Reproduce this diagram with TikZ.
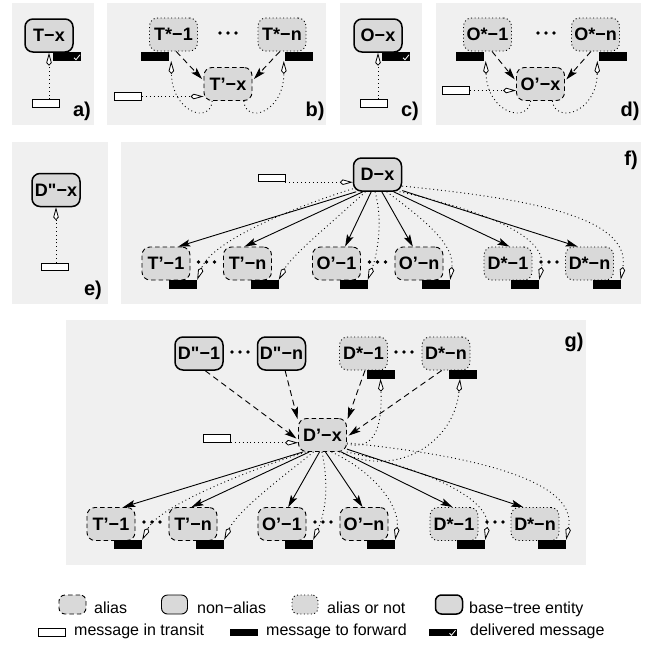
\documentclass[tikz,border=0pt]{standalone}
\usepackage{fontspec}
\setmainfont{Liberation Sans}[Ligatures=TeXOff]
\usetikzlibrary{arrows.meta}
\definecolor{panelbg}{RGB}{240,240,240}
\definecolor{nodegray}{RGB}{217,217,217}
\newcommand{\entfont}{\fontsize{18}{18}\selectfont\bfseries}
\newcommand{\labfont}{\fontsize{20}{20}\selectfont\bfseries}
\newcommand{\legfont}{\fontsize{16}{16}\selectfont}

\tikzset{
  panel/.style={fill=panelbg, draw=none},
  entity/.style={rounded corners=8pt, fill=nodegray, minimum width=48pt,
    minimum height=33pt, inner sep=0pt, font=\entfont},
  basebox/.style={entity, draw, line width=1.5pt},
  aliasbox/.style={entity, draw, line width=0.9pt, dash pattern=on 4.5pt off 3pt},
  eitherbox/.style={entity, draw, line width=0.9pt, dash pattern=on 1pt off 2.5pt},
  plainbox/.style={entity, draw, line width=0.9pt},
  transitmsg/.style={draw, fill=white, line width=0.9pt, minimum width=27pt,
    minimum height=7.5pt, inner sep=0pt},
  forwardmsg/.style={fill=black, minimum width=28pt, minimum height=8.5pt, inner sep=0pt},
  deliveredmsg/.style={forwardmsg, path picture={
    \draw[white, line width=0.8pt]
      ([shift={(-7,-3)}]path picture bounding box.south east) -- ++(2,2) -- ++(4,-5);}},
  msgline/.style={line width=0.9pt, dash pattern=on 0.9pt off 3pt,
    -{Kite[length=13pt, width=5.5pt, inset=3pt, fill=white, line width=0.8pt]}},
  solidarrow/.style={line width=0.9pt, -{Stealth[length=12pt, width=7pt, inset=2.5pt]}},
  dasharrow/.style={line width=0.9pt, dash pattern=on 6pt off 4pt, shorten >=2pt,
    -{Stealth[length=12pt, width=7pt, inset=2.5pt]}},
  plabel/.style={font=\labfont, inner sep=0pt},
  legtext/.style={font=\legfont, inner sep=0pt, anchor=base west},
  threedots/.pic={\fill (-8,0) circle (1.9) (0,0) circle (1.9) (8,0) circle (1.9);}
}

\begin{document}
\begin{tikzpicture}[x=1pt, y=-1pt]
\useasboundingbox (0,0) rectangle (648,646);

% ---------- panel backgrounds ----------
\fill[panel] (12,3) rectangle (94,125);
\fill[panel] (107,3) rectangle (326,125);
\fill[panel] (340,3) rectangle (422,125);
\fill[panel] (436,3) rectangle (641,125);
\fill[panel] (12,142) rectangle (108,304);
\fill[panel] (121,142) rectangle (641,304);
\fill[panel] (66,320) rectangle (586,565);

% ---------- a) ----------
\node[basebox] (aT) at (49,35.5) {T−x};
\node[deliveredmsg] (aT-d) at (67,56.5) {};
\node[transitmsg] (aT-m) at (46,103.5) {};
\draw[msgline] (aT-m.north -| aT.south) -- (aT.south);
\node[plabel] (la) at (82,111) {a)};

% ---------- b) ----------
\node[eitherbox] (bS1) at (173.5,34.5) {T*−1};
\node[eitherbox] (bSn) at (282,34.5) {T*−n};
\pic at (228,33) {threedots};
\node[aliasbox] (bP) at (228,84) {T’−x};
\node[forwardmsg] (bS1-f) at (155,56.5) {};
\node[forwardmsg] (bSn-f) at (299,56.5) {};
\node[transitmsg] (bP-m) at (128,96.5) {};
\draw[dasharrow] (bS1.-81) -- (bP.172);
\draw[dasharrow] (bSn.-97) -- (bP.8);
\draw[msgline] (bP-m.east) -- (bP-m.east -| bP.west);
\draw[msgline] (bP.-133) .. controls (210,125) and (172,112) .. ([xshift=2pt]bS1-f.south east);
\draw[msgline] (bP.-47) .. controls (246,125) and (284,112) .. ([xshift=-1pt]bSn-f.south west);
\node[plabel] (lb) at (315,111) {b)};

% ---------- c) ----------
\node[basebox] (cO) at (378,35.5) {O−x};
\node[deliveredmsg] (cO-d) at (396,56.5) {};
\node[transitmsg] (cO-m) at (374,103.5) {};
\draw[msgline] (cO-m.north -| cO.south) -- (cO.south);
\node[plabel] (lc) at (410,111) {c)};

% ---------- d) ----------
\node[eitherbox] (dS1) at (487.5,34.5) {O*−1};
\node[eitherbox] (dSn) at (595.5,34.5) {O*−n};
\pic at (546,33) {threedots};
\node[aliasbox] (dP) at (540.5,84) {O’−x};
\node[forwardmsg] (dS1-f) at (469.5,56.5) {};
\node[forwardmsg] (dSn-f) at (612.5,56.5) {};
\node[transitmsg] (dP-m) at (456,90.5) {};
\draw[dasharrow] (dS1.-75) -- (dP.173);
\draw[dasharrow] (dSn.-105) -- (dP.7);
\draw[msgline] (dP-m.east) -- (dP-m.east -| dP.west);
\draw[msgline] (dP.-120) .. controls (527,125) and (487,112) .. ([xshift=2pt]dS1-f.south east);
\draw[msgline] (dP.-55) .. controls (556,125) and (597,112) .. ([xshift=-1pt]dSn-f.south west);
\node[plabel] (ld) at (630,111) {d)};

% ---------- e) ----------
\node[basebox] (eD) at (56,190) {D"−x};
\node[transitmsg] (eD-m) at (54.5,267) {};
\draw[msgline] (eD-m.north -| eD.south) -- (eD.south);
\node[plabel] (le) at (93,290) {e)};

% ---------- f) ----------
\node[basebox] (fD) at (377.5,174.5) {D−x};
\node[transitmsg] (fD-m) at (271.5,178) {};
\draw[msgline] (fD-m.south east) -- (fD-m.south east -| fD.west);

\node[aliasbox] (fT1) at (166,263.5) {T’−1};
\node[aliasbox] (fTn) at (247.5,263.5) {T’−n};
\node[aliasbox] (fO1) at (336.5,263.5) {O’−1};
\node[aliasbox] (fOn) at (419,263.5) {O’−n};
\node[eitherbox] (fS1) at (508,263.5) {D*−1};
\node[eitherbox] (fSn) at (589.5,263.5) {D*−n};
\pic at (206.5,262) {threedots};
\pic at (377.5,262) {threedots};
\pic at (549,262) {threedots};
\node[forwardmsg] (fT1-f) at (183,284.25) {};
\node[forwardmsg] (fTn-f) at (264.5,284.25) {};
\node[forwardmsg] (fO1-f) at (353.5,284.25) {};
\node[forwardmsg] (fOn-f) at (436,284.25) {};
\node[forwardmsg] (fS1-f) at (525,284.25) {};
\node[forwardmsg] (fSn-f) at (606.5,284.25) {};

\draw[solidarrow] (fD.-141) -- (fT1.54);
\draw[solidarrow] (fD.-130) -- (fTn.100);
\draw[solidarrow] (fD.-110) -- (fO1.63);
\draw[solidarrow] (fD.-76) -- (fOn.110);
\draw[solidarrow] (fD.-47) -- (fS1.85);
\draw[solidarrow] (fD.-33) -- (fSn.125);

\draw[msgline] (fD.-150) .. controls (300,205) and (212,240) .. (fT1-f.north east);
\draw[msgline] (fD.-125) .. controls (335,220) and (292,255) .. (fTn-f.north east);
\draw[msgline] (fD.-98) .. controls (384,225) and (376,258) .. (fO1-f.north east);
\draw[msgline] (fD.-62) .. controls (425,220) and (455,245) .. (fOn-f.north east);
\draw[msgline] (fD.-38) .. controls (480,210) and (548,235) .. (fS1-f.north east);
\draw[msgline] (fD.-25) .. controls (520,198) and (632,215) .. (fSn-f.north east);
\node[plabel] (lf) at (631,160) {f)};

% ---------- g) ----------
\node[basebox] (gD1) at (199,353.5) {D"−1};
\node[basebox] (gDn) at (281.5,353.5) {D"−n};
\pic at (240,352) {threedots};
\node[eitherbox] (gS1) at (363.5,353.5) {D*−1};
\node[eitherbox] (gSn) at (446,353.5) {D*−n};
\pic at (404,352) {threedots};
\node[forwardmsg] (gS1-f) at (380.5,374.25) {};
\node[forwardmsg] (gSn-f) at (463,374.25) {};
\node[aliasbox] (gP) at (322.5,435) {D’−x};
\node[transitmsg] (gP-m) at (217,438.5) {};
\draw[msgline] (gP-m.south east) -- (gP-m.south east -| gP.west);

\draw[dasharrow] (gD1.-70) -- (gP.191);
\draw[dasharrow] (gDn.-78) -- (gP.150);
\draw[dasharrow] (gS1.-85) -- (gP.30);
\draw[dasharrow] (gSn.-104) -- (gP.-4);

\draw[msgline] (gP.-20) .. controls (378,452) and (382,420) .. (gS1-f.south);
\draw[msgline] (gP.-45) .. controls (400,480) and (455,440) .. ([xshift=-3pt]gSn-f.south);

\node[aliasbox] (gT1) at (111,524) {T’−1};
\node[aliasbox] (gTn) at (193,524) {T’−n};
\node[aliasbox] (gO1) at (282,524) {O’−1};
\node[aliasbox] (gOn) at (364,524) {O’−n};
\node[eitherbox] (gB1) at (454,524) {D*−1};
\node[eitherbox] (gBn) at (535,524) {D*−n};
\pic at (152,522) {threedots};
\pic at (323,522) {threedots};
\pic at (495,522) {threedots};
\node[forwardmsg] (gT1-f) at (128,544.25) {};
\node[forwardmsg] (gTn-f) at (210,544.25) {};
\node[forwardmsg] (gO1-f) at (299,544.25) {};
\node[forwardmsg] (gOn-f) at (381,544.25) {};
\node[forwardmsg] (gB1-f) at (471,544.25) {};
\node[forwardmsg] (gBn-f) at (552,544.25) {};

\draw[solidarrow] (gP.-139) -- (gT1.54);
\draw[solidarrow] (gP.-128) -- (gTn.95);
\draw[solidarrow] (gP.-100) -- (gO1.70);
\draw[solidarrow] (gP.-80) -- (gOn.95);
\draw[solidarrow] (gP.-42) -- (gB1.95);
\draw[solidarrow] (gP.-30) -- (gBn.125);

\draw[msgline] (gP.-135) .. controls (250,470) and (160,505) .. (gT1-f.north east);
\draw[msgline] (gP.-118) .. controls (285,475) and (238,510) .. (gTn-f.north east);
\draw[msgline] (gP.-92) .. controls (330,490) and (324,515) .. (gO1-f.north east);
\draw[msgline] (gP.-62) .. controls (380,475) and (400,510) .. (gOn-f.north east);
\draw[msgline] (gP.-35) .. controls (430,470) and (492,500) .. (gB1-f.north east);
\draw[msgline] (gP.-18) .. controls (470,455) and (578,480) .. (gBn-f.north east);
\node[plabel] (lg) at (574,342) {g)};

% ---------- legend ----------
\node[aliasbox, minimum width=27pt, minimum height=19pt, rounded corners=6pt] (k1) at (72.5,604.5) {};
\node[legtext] (k1t) at (94,613) {alias};
\node[plainbox, minimum width=26pt, minimum height=19pt, rounded corners=6pt] (k2) at (174.5,604.5) {};
\node[legtext] (k2t) at (197,613) {non−alias};
\node[eitherbox, minimum width=26pt, minimum height=19pt, rounded corners=6pt] (k3) at (305,604.5) {};
\node[legtext] (k3t) at (327,613) {alias or not};
\node[basebox, minimum width=27pt, minimum height=19pt, rounded corners=6pt] (k4) at (449,604.5) {};
\node[legtext] (k4t) at (469,613) {base−tree entity};

\node[transitmsg] (k5) at (52,632.5) {};
\node[legtext] (k5t) at (74,635) {message in transit};
\node[forwardmsg, minimum height=7.5pt] (k6) at (243.5,632.5) {};
\node[legtext] (k6t) at (266,635) {message to forward};
\node[deliveredmsg, minimum height=7.5pt] (k7) at (442.5,632.5) {};
\node[legtext] (k7t) at (470,635) {delivered message};
\end{tikzpicture}
\end{document}
